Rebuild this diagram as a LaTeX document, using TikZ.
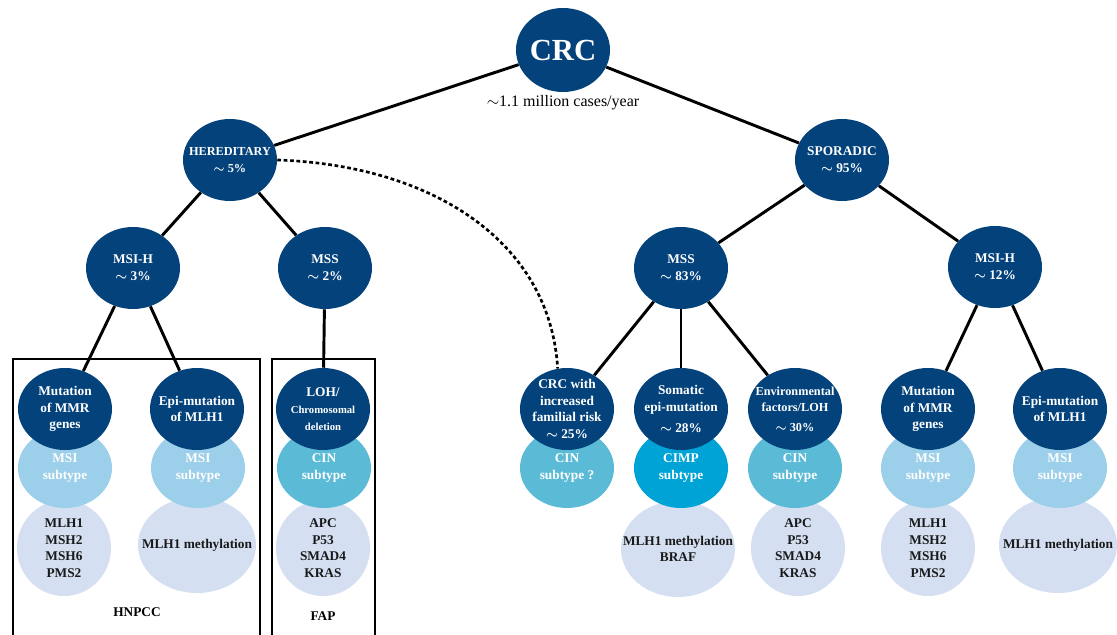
\documentclass[tikz,border=0pt]{standalone}
\usepackage{fontspec}
\setmainfont{Liberation Serif}
\usetikzlibrary{shapes.geometric}
\definecolor{navy}{HTML}{03427B}
\definecolor{msiblue}{HTML}{9CCFE9}
\definecolor{cinblue}{HTML}{5BBBD7}
\definecolor{cimpblue}{HTML}{00A3D5}
\definecolor{paleblue}{HTML}{D5DFF2}
\newcommand{\smalltxt}[1]{{\fontsize{8}{10}\selectfont #1}}
\begin{document}
\begin{tikzpicture}[x=0.75pt,y=-0.75pt,
dark/.style ={ellipse, fill=navy, text=white, inner sep=-30pt,
  minimum width=70.5pt, minimum height=61.5pt, align=center,
  font=\fontsize{10}{12.5}\selectfont\bfseries\boldmath
},
tight/.style ={font=\fontsize{9.2}{12.5}\selectfont\bfseries\boldmath},
subtype/.style ={dark, minimum height=60pt},
genes/.style ={dark, fill=paleblue, text=black!90,
  minimum height=72pt
},
wide/.style ={genes, minimum width=88.5pt},
link/.style ={line width=2.2pt},
frame/.style ={line width=1pt},
caption/.style ={font=\fontsize{10}{12}\selectfont\bfseries}
]
\useasboundingbox (0,0) rectangle (1117,635);

% top levels
\node (crc) at (563,50) [dark, minimum height=63pt,
  font=\fontsize{23}{25}\selectfont\bfseries] {CRC};
\node (cases) at (563,103) [font=\fontsize{12}{14}\selectfont]
  {$\sim$1.1 million cases/year};
\node (her) at (230,160) [dark, tight] {HEREDITARY\\$\sim$ 5\%};
\node (spo) at (842,160) [dark] {SPORADIC\\$\sim$ 95\%};
\node (msih1) at (133,268) [dark] {MSI-H\\$\sim$ 3\%};
\node (mss1) at (325,268) [dark] {MSS\\$\sim$ 2\%};
\node (mss2) at (681,268) [dark] {MSS\\$\sim$ 83\%};
\node (msih2) at (995,267) [dark] {MSI-H\\$\sim$ 12\%};

% gene ellipses (drawn first, lowest layer)
\node (gen1) at (64,548) [genes] {MLH1\\MSH2\\MSH6\\PMS2};
\node (met1) at (197,545) [wide] {MLH1 methylation};
\node (apc1) at (323,548) [genes] {APC\\P53\\SMAD4\\KRAS};
\node (braf) at (678,549) [wide, minimum width=85.5pt]
  {MLH1 methylation\\BRAF};
\node (apc2) at (798,548) [genes] {APC\\P53\\SMAD4\\KRAS};
\node (gen2) at (928,548) [genes] {MLH1\\MSH2\\MSH6\\PMS2};
\node (met2) at (1058,545) [wide] {MLH1 methylation};

% subtypes
\node (sub1) at (65,468) [subtype, fill=msiblue] {MSI\\subtype};
\node (sub2) at (198,468) [subtype, fill=msiblue] {MSI\\subtype};
\node (sub3) at (324,468) [subtype, fill=cinblue] {CIN\\subtype};
\node (sub4) at (567,468) [subtype, fill=cinblue] {CIN\\subtype ?};
\node (sub5) at (681,468) [subtype, fill=cimpblue] {CIMP\\subtype};
\node (sub6) at (795,468) [subtype, fill=cinblue] {CIN\\subtype};
\node (sub7) at (928,468) [subtype, fill=msiblue] {MSI\\subtype};
\node (sub8) at (1060,468) [subtype, fill=msiblue] {MSI\\subtype};

% mechanisms
\node (mut1) at (65,409) [dark] {Mutation\\of MMR\\genes};
\node (epi1) at (197,409) [dark] {Epi-mutation\\of MLH1};
\node (loh) at (323,409) [dark]
  {LOH/\\\smalltxt{Chromosomal}\\\smalltxt{deletion}};
\node (fam) at (567,409) [dark]
  {CRC with\\increased\\familial risk\\$\sim$ 25\%};
\node (som) at (681,409) [dark] {Somatic\\epi-mutation\\[3pt]$\sim$ 28\%};
\node (env) at (795,409) [dark, tight]
  {Environmental\\factors/LOH\\[2pt]$\sim$ 30\%};
\node (mut2) at (928,409) [dark] {Mutation\\of MMR\\genes};
\node (epi2) at (1060,409) [dark] {Epi-mutation\\of MLH1};

% connectors
\draw[link] (crc) -- (her);
\draw[link] (crc) -- (spo);
\draw[link] (her) -- (msih1);
\draw[link] (her) -- (mss1);
\draw[link] (spo) -- (mss2);
\draw[link] (spo) -- (msih2);
\draw[link] (msih1) -- (mut1);
\draw[link] (msih1) -- (epi1);
\draw[link] (mss1) -- (loh);
\draw[link] (mss2) -- (fam);
\draw[link] (mss2) -- (som);
\draw[link] (mss2) -- (env);
\draw[link] (msih2) -- (mut2);
\draw[link] (msih2) -- (epi2);
\draw[line width=2pt, dash pattern=on 2.8pt off 2pt]
  (her.east) .. controls (430,165) and (550,240) .. (fam.103);

% syndrome frames
\draw[frame] (13,640) |- (260,359) -- (260,640);
\draw[frame] (272,640) |- (375,359) -- (375,640);
\node (hnpcc) at (137,612) [caption] {HNPCC};
\node (fap) at (323,616) [caption] {FAP};
\end{tikzpicture}
\end{document}
